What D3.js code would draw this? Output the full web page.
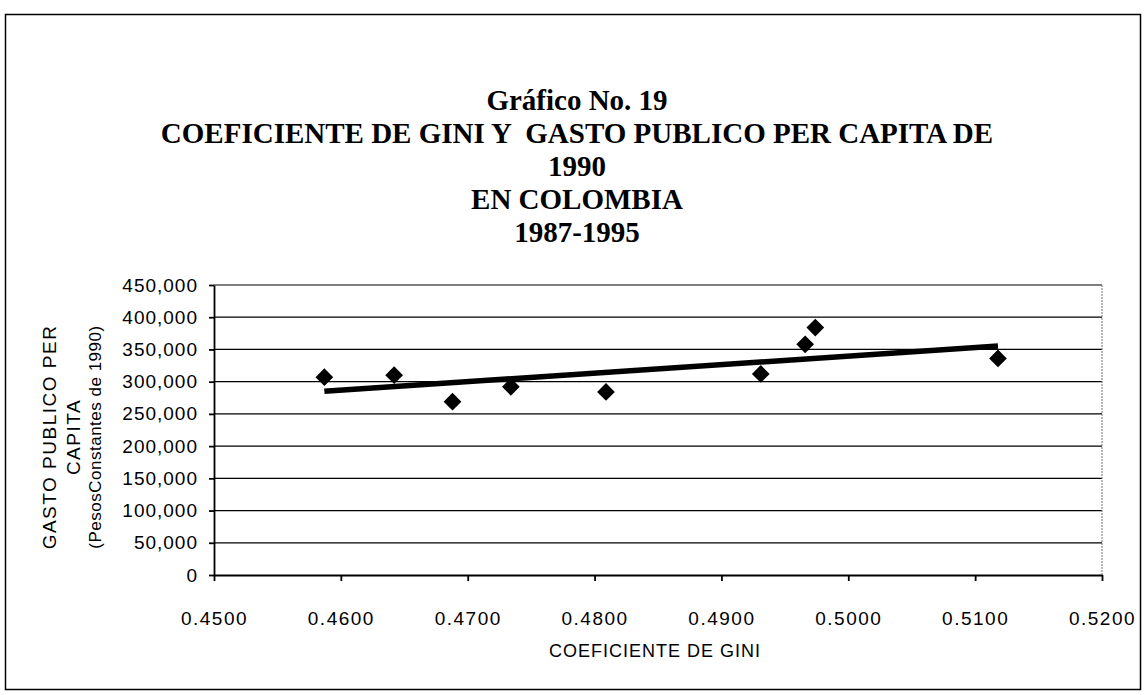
<!DOCTYPE html>
<html>
<head>
<meta charset="utf-8">
<script src="https://cdn.jsdelivr.net/npm/d3@7"></script>
<style>
  body { margin: 0; background: #fff; }
  svg { display: block; }
</style>
</head>
<body>
<div id="chart-area"></div>
<script>
// Gini coefficient vs public spending per capita (1990 pesos), Colombia 1987-1995
const gini = [0.4587, 0.4642, 0.4688, 0.4734, 0.4809, 0.4931, 0.4966, 0.4974, 0.5118];
const gasto = [307000, 310000, 269000, 292000, 284000, 312000, 358000, 384000, 336000];
const xTicks = [0.45, 0.46, 0.47, 0.48, 0.49, 0.50, 0.51, 0.52];
const yTicks = [0, 50000, 100000, 150000, 200000, 250000, 300000, 350000, 400000, 450000];
const titleLines = [
    "Gráfico No. 19",
    "COEFICIENTE DE GINI Y  GASTO PUBLICO PER CAPITA DE",
    "1990",
    "EN COLOMBIA",
    "1987-1995"
];
const yTitleLines = ["GASTO PUBLICO PER", "CAPITA", "(PesosConstantes de 1990)"];
const xTitle = "COEFICIENTE DE GINI";

const data = gini.map((g, i) => ({ x: g, y: gasto[i] }));

const config = {
    width: 1145,
    height: 695,
    plot: { left: 214, right: 1102, top: 285, bottom: 575 }
};

const svg = d3.select('#chart-area')
    .append('svg')
    .attr("width", config.width)
    .attr("height", config.height);

// outer frame
svg.append('rect')
    .attr('x', 5.5).attr('y', 14.5)
    .attr('width', 1135).attr('height', 675)
    .attr('fill', 'none')
    .attr('stroke', '#000')
    .attr('stroke-width', 1.5);

const xScale = d3.scaleLinear()
    .domain([0.45, 0.52])
    .range([config.plot.left, config.plot.right]);

const yScale = d3.scaleLinear()
    .domain([0, 450000])
    .range([config.plot.bottom, config.plot.top]);

// title
svg.append('g').selectAll('text')
    .data(titleLines)
    .enter().append('text')
    .attr('x', 577)
    .attr('y', (d, i) => 110 + i * 33)
    .attr('text-anchor', 'middle')
    .style('font-family', '"Liberation Serif", "Times New Roman", serif')
    .style('font-weight', 'bold')
    .style('font-size', '29px')
    .style('white-space', 'pre')
    .text(d => d);

// gridlines
svg.append('g')
    .selectAll('line')
    .data(yTicks.filter(d => d > 0))
    .enter().append('line')
    .attr('x1', config.plot.left)
    .attr('x2', config.plot.right)
    .attr('y1', d => yScale(d))
    .attr('y2', d => yScale(d))
    .attr('stroke', '#000')
    .attr('stroke-width', 1.2);

// right border of plot area (dotted)
svg.append('line')
    .attr('x1', config.plot.right).attr('x2', config.plot.right)
    .attr('y1', config.plot.top).attr('y2', config.plot.bottom)
    .attr('stroke', '#777')
    .attr('stroke-dasharray', '2,1');

// y axis
const yAxisGroup = svg.append('g')
    .attr('transform', `translate(${config.plot.left}, 0)`)
    .call(d3.axisLeft(yScale)
        .tickValues(yTicks)
        .tickFormat(d3.format(","))
        .tickSizeInner(5)
        .tickSizeOuter(0)
        .tickPadding(11));
yAxisGroup.selectAll("text")
    .style('font-family', '"Liberation Sans", Arial, sans-serif')
    .style('font-size', '19px')
    .style('letter-spacing', '1px')
    .style('fill', '#000');
yAxisGroup.selectAll(".domain, .tick line")
    .style('stroke', '#000')
    .style('stroke-width', 1.8);

// x axis
const xAxisGroup = svg.append('g')
    .attr('transform', `translate(0, ${config.plot.bottom})`)
    .call(d3.axisBottom(xScale)
        .tickValues(xTicks)
        .tickFormat(d3.format(".4f"))
        .tickSizeInner(6)
        .tickSizeOuter(0)
        .tickPadding(31));
xAxisGroup.selectAll("text")
    .style('font-family', '"Liberation Sans", Arial, sans-serif')
    .style('font-size', '19px')
    .style('letter-spacing', '1.5px')
    .style('fill', '#000');
xAxisGroup.selectAll(".domain, .tick line")
    .style('stroke', '#000')
    .style('stroke-width', 1.8);

// axis titles
svg.append('text')
    .attr('x', 655)
    .attr('y', 657)
    .attr('text-anchor', 'middle')
    .style('font-family', '"Liberation Sans", Arial, sans-serif')
    .style('font-size', '18px')
    .style('letter-spacing', '1px')
    .text(xTitle);

const yTitleX = [56, 80, 101];
svg.append('g').selectAll('text')
    .data(yTitleLines)
    .enter().append('text')
    .attr('transform', (d, i) => `translate(${yTitleX[i]}, 437) rotate(-90)`)
    .attr('text-anchor', 'middle')
    .style('font-family', '"Liberation Sans", Arial, sans-serif')
    .style('font-size', (d, i) => i < 2 ? '19px' : '17px')
    .style('letter-spacing', (d, i) => i < 2 ? '1.5px' : '0.5px')
    .text(d => d);

// linear trend line (least squares on the data)
const mx = d3.mean(data, d => d.x);
const my = d3.mean(data, d => d.y);
const slope = d3.sum(data, d => (d.x - mx) * (d.y - my)) / d3.sum(data, d => (d.x - mx) ** 2);
const intercept = my - slope * mx;
const [xMin, xMax] = d3.extent(data, d => d.x);
const trend = [xMin, xMax].map(x => ({ x: x, y: intercept + slope * x }));

svg.append('path')
    .datum(trend)
    .attr('d', d3.line().x(d => xScale(d.x)).y(d => yScale(d.y)))
    .attr('fill', 'none')
    .attr('stroke', '#000')
    .attr('stroke-width', 5.5);

// points
svg.append('g')
    .selectAll('path')
    .data(data)
    .enter().append('path')
    .attr('transform', d => `translate(${xScale(d.x)}, ${yScale(d.y)})`)
    .attr('d', d3.symbol().type(d3.symbolDiamond2).size(200))
    .attr('fill', '#000');
</script>
</body>
</html>
